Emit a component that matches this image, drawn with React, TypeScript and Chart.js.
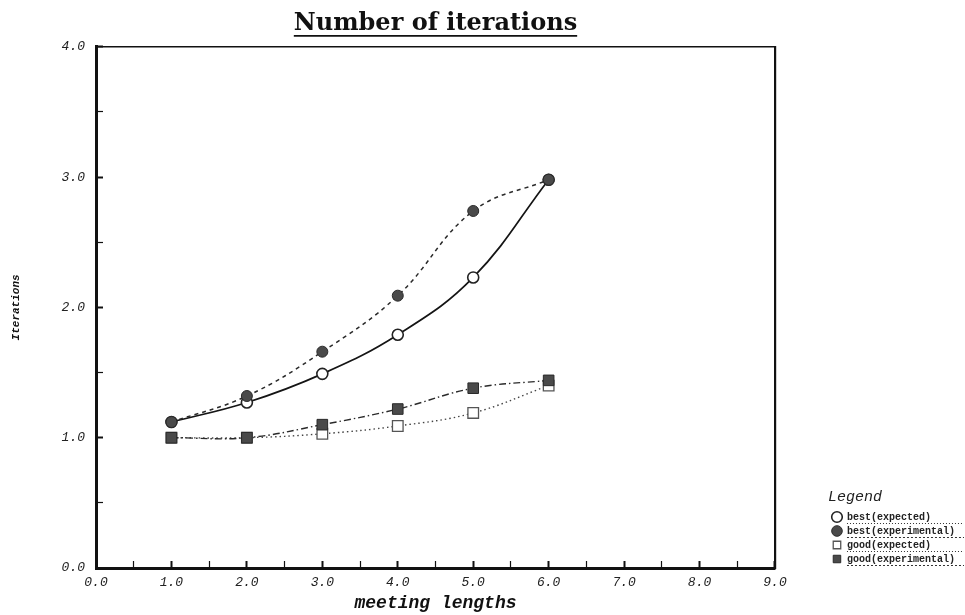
import React, { useEffect, useRef } from 'react';
import { Chart, registerables } from 'chart.js';

Chart.register(...registerables);

// ---- data ----
const meetingLengths = [1, 2, 3, 4, 5, 6];
const bestExpected = [1.12, 1.27, 1.49, 1.79, 2.23, 2.98];
const bestExperimental = [1.12, 1.32, 1.66, 2.09, 2.74, 2.98];
const goodExpected = [1.0, 1.0, 1.03, 1.09, 1.19, 1.4];
const goodExperimental = [1.0, 1.0, 1.1, 1.22, 1.38, 1.44];
const seriesLabels = ['best(expected)', 'best(experimental)', 'good(expected)', 'good(experimental)'];

const xRange = [0, 9];
const yRange = [0, 4];
const tickStep = 0.5;

const chartTitle = 'Number of iterations';
const xTitle = 'meeting lengths';
const yTitle = 'Iterations';
const legendTitle = 'Legend';

const MONO = '"Liberation Mono", "DejaVu Sans Mono", monospace';
const SERIF = '"DejaVu Serif", "Liberation Serif", serif';

const lineDashes = [[], [4, 4], [1.5, 3], [7, 3, 1.5, 3]];

const TITLE_SIZE = 24;
const TITLE_PAD_TOP = 9;

const decorations = {
  id: 'decorations',
  afterDraw(chart: any) {
    const ctx = chart.ctx;
    // underline under chart title
    const tb = chart.titleBlock;
    if (tb) {
      ctx.save();
      ctx.font = `bold ${TITLE_SIZE}px ${SERIF}`;
      const w = ctx.measureText(chartTitle).width;
      const cx = (tb.left + tb.right) / 2;
      const y = tb.top + TITLE_PAD_TOP + (TITLE_SIZE * 1.2) / 2 + 12.5;
      ctx.strokeStyle = '#111';
      ctx.lineWidth = 1.6;
      ctx.beginPath();
      ctx.moveTo(cx - w / 2, y);
      ctx.lineTo(cx + w / 2, y);
      ctx.stroke();
      ctx.restore();
    }
    // dotted underlines under legend entries
    const lg = chart.legend;
    if (lg && lg.legendHitBoxes) {
      ctx.save();
      ctx.strokeStyle = '#333';
      ctx.lineWidth = 1;
      lg.legendHitBoxes.forEach((hb: any, i: number) => {
        const x0 = hb.left + 15;
        const y = hb.top + 11.5;
        ctx.setLineDash(i % 2 === 0 ? [1, 2] : [2, 2]);
        ctx.beginPath();
        ctx.moveTo(x0, y);
        ctx.lineTo(chart.width - 1, y);
        ctx.stroke();
      });
      ctx.restore();
    }
  },
};

function makeSeries(values: number[]) {
  return meetingLengths.map((x, i) => ({ x, y: values[i] }));
}

export default function App() {
  const canvasRef = useRef<HTMLCanvasElement | null>(null);

  useEffect(() => {
    document.body.style.margin = '0';
    const canvas = canvasRef.current;
    if (!canvas) return;

    const tickLabel = (v: any) => (Number.isInteger(Number(v)) ? Number(v).toFixed(1) : '');

    const chart = new Chart(canvas, {
      type: 'line',
      data: {
        datasets: [
          {
            label: seriesLabels[0],
            data: makeSeries(bestExpected),
            order: 2,
            borderColor: '#151515',
            borderWidth: 1.7,
            borderDash: lineDashes[0],
            tension: 0.4,
            fill: false,
            pointStyle: 'circle',
            pointRadius: 5.5,
            pointBackgroundColor: '#ffffff',
            pointBorderColor: '#222',
            pointBorderWidth: 1.6,
          },
          {
            label: seriesLabels[1],
            data: makeSeries(bestExperimental),
            order: 1,
            borderColor: '#2a2a2a',
            borderWidth: 1.5,
            borderDash: lineDashes[1],
            tension: 0.4,
            fill: false,
            pointStyle: 'circle',
            pointRadius: 5.5,
            pointBackgroundColor: '#4a4a4a',
            pointBorderColor: '#2a2a2a',
            pointBorderWidth: 1,
          },
          {
            label: seriesLabels[2],
            data: makeSeries(goodExpected),
            order: 2,
            borderColor: '#444',
            borderWidth: 1.4,
            borderDash: lineDashes[2],
            tension: 0.4,
            fill: false,
            pointStyle: 'rect',
            pointRadius: 7.5,
            pointBackgroundColor: '#ffffff',
            pointBorderColor: '#555',
            pointBorderWidth: 1.3,
          },
          {
            label: seriesLabels[3],
            data: makeSeries(goodExperimental),
            order: 1,
            borderColor: '#2a2a2a',
            borderWidth: 1.4,
            borderDash: lineDashes[3],
            tension: 0.4,
            fill: false,
            pointStyle: 'rect',
            pointRadius: 7.5,
            pointBackgroundColor: '#4a4a4a',
            pointBorderColor: '#2a2a2a',
            pointBorderWidth: 1,
          },
        ],
      },
      options: {
        responsive: false,
        animation: false,
        devicePixelRatio: 1,
        layout: { padding: 0 },
        scales: {
          x: {
            type: 'linear',
            position: 'bottom',
            min: xRange[0],
            max: xRange[1],
            afterFit: (s: any) => {
              s.height = 47;
            },
            ticks: {
              stepSize: tickStep,
              autoSkip: false,
              maxRotation: 0,
              padding: 14,
              color: '#222',
              font: { family: MONO, style: 'italic', size: 13 },
              callback: tickLabel,
            },
            grid: {
              drawOnChartArea: false,
              drawTicks: true,
              tickLength: -7,
              tickColor: '#111',
              tickWidth: (c: any) => (c.tick && Number.isInteger(c.tick.value) ? 2 : 1.2),
            },
            border: { display: true, color: '#111', width: 3 },
            title: {
              display: true,
              text: xTitle,
              color: '#111',
              font: { family: MONO, style: 'italic', weight: 'bold', size: 18 },
              padding: { top: 0, bottom: 1 },
            },
          },
          y: {
            type: 'linear',
            position: 'left',
            min: yRange[0],
            max: yRange[1],
            afterFit: (s: any) => {
              s.width = 96;
            },
            ticks: {
              stepSize: tickStep,
              autoSkip: false,
              padding: 18,
              color: '#222',
              font: { family: MONO, style: 'italic', size: 13 },
              callback: tickLabel,
            },
            grid: {
              drawOnChartArea: false,
              drawTicks: true,
              tickLength: -7,
              tickColor: '#111',
              tickWidth: (c: any) => (c.tick && Number.isInteger(c.tick.value) ? 2 : 1.2),
            },
            border: { display: true, color: '#111', width: 3 },
            title: {
              display: true,
              text: yTitle,
              color: '#111',
              font: { family: MONO, style: 'italic', weight: 'bold', size: 11 },
              padding: { top: 10, bottom: 0 },
            },
          },
          x2: {
            type: 'linear',
            position: 'top',
            min: xRange[0],
            max: xRange[1],
            ticks: { display: false },
            grid: { display: false, drawTicks: false },
            border: { display: true, color: '#111', width: 1.6 },
            afterFit: (s: any) => {
              s.height = 0;
            },
          },
          y2: {
            type: 'linear',
            position: 'right',
            min: yRange[0],
            max: yRange[1],
            ticks: { display: false },
            grid: { display: false, drawTicks: false },
            border: { display: true, color: '#111', width: 2.2 },
            afterFit: (s: any) => {
              s.width = 53;
            },
          },
        },
        plugins: {
          title: {
            display: true,
            text: chartTitle,
            fullSize: false,
            color: '#111',
            font: { family: SERIF, size: TITLE_SIZE, weight: 'bold' },
            padding: { top: TITLE_PAD_TOP, bottom: 9 },
          },
          legend: {
            display: true,
            position: 'right',
            align: 'end',
            fullSize: false,
            title: {
              display: true,
              text: legendTitle,
              position: 'start',
              color: '#222',
              font: { family: MONO, style: 'italic', size: 15 },
              padding: 0,
            },
            labels: {
              usePointStyle: true,
              boxWidth: 10,
              boxHeight: 7.5,
              padding: 4,
              color: '#222',
              font: { family: MONO, size: 10, weight: 'bold' },
              sort: (a: any, b: any) => a.datasetIndex - b.datasetIndex,
            },
          },
          tooltip: { enabled: false },
        },
      },
      plugins: [decorations],
    } as any);

    return () => {
      chart.destroy();
    };
  }, []);

  return (
    <div style={{ width: 965, height: 615, background: '#fff' }}>
      <canvas ref={canvasRef} width={965} height={615} />
    </div>
  );
}
